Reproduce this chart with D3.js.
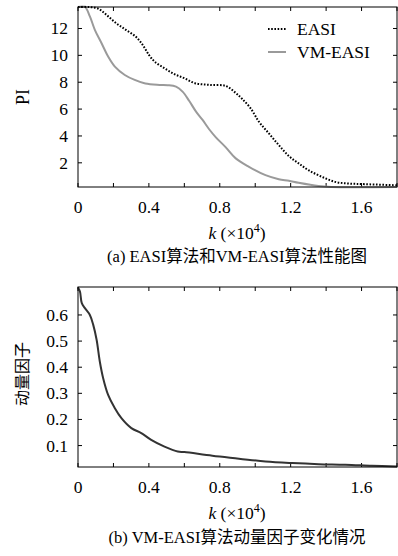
<!DOCTYPE html>
<html>
<head>
<meta charset="utf-8">
<script src="https://cdn.jsdelivr.net/npm/d3@7"></script>
<style>
  body { margin: 0; background: #fff; }
</style>
</head>
<body>
<svg id="chart" width="398" height="556" font-family="'Liberation Serif', 'DejaVu Serif', serif"></svg>
<script>
// x in units of 10^4 iterations
const easiK  = [0, 0.06, 0.114, 0.16, 0.215, 0.27, 0.325, 0.365, 0.4, 0.432, 0.488, 0.544, 0.6, 0.66, 0.74, 0.834, 0.89, 0.927, 0.974, 1.021, 1.077, 1.133, 1.19, 1.245, 1.3, 1.376, 1.451, 1.526, 1.62, 1.8];
const easiPI = [13.6, 13.6, 13.48, 13.02, 12.4, 11.9, 11.4, 10.78, 10.04, 9.54, 9.04, 8.6, 8.3, 7.93, 7.8, 7.72, 7.2, 6.75, 6.06, 5.06, 4.19, 3.32, 2.5, 1.96, 1.46, 0.96, 0.58, 0.46, 0.41, 0.33];

const vmK  = [0, 0.039, 0.067, 0.095, 0.133, 0.17, 0.208, 0.264, 0.32, 0.38, 0.46, 0.506, 0.553, 0.59, 0.628, 0.666, 0.703, 0.74, 0.778, 0.834, 0.89, 0.965, 1.058, 1.133, 1.19, 1.245, 1.357, 1.43, 1.8];
const vmPI = [13.6, 13.6, 12.9, 11.9, 10.9, 9.91, 9.16, 8.54, 8.17, 7.9, 7.8, 7.78, 7.67, 7.3, 6.6, 5.81, 5.19, 4.5, 3.9, 3.15, 2.33, 1.7, 1.08, 0.78, 0.66, 0.51, 0.27, 0.2, 0.2];

const momK = [0, 0.011, 0.021, 0.039, 0.067, 0.086, 0.105, 0.123, 0.142, 0.17, 0.208, 0.245, 0.301, 0.357, 0.413, 0.488, 0.563, 0.6, 0.758, 0.908, 1.058, 1.208, 1.358, 1.508, 1.658, 1.8];
const momV = [0.705, 0.69, 0.646, 0.626, 0.6, 0.562, 0.505, 0.422, 0.358, 0.294, 0.243, 0.205, 0.167, 0.148, 0.122, 0.096, 0.077, 0.075, 0.061, 0.05, 0.039, 0.033, 0.029, 0.027, 0.023, 0.02];

const xTickLabels = [0, 0.4, 0.8, 1.2, 1.6];
const piTicks = [2, 4, 6, 8, 10, 12];
const momTicks = [0.1, 0.2, 0.3, 0.4, 0.5, 0.6];

const svg = d3.select('#chart');
const left = 78, right = 397;

function panel(top, bottom, yDomain, yTicks, yFmt) {
  const g = svg.append('g');
  const x = d3.scaleLinear().domain([0, 1.8]).range([left, right]);
  const y = d3.scaleLinear().domain(yDomain).range([bottom, top]);

  // inward ticks on all four sides
  const xt = d3.range(0, 1.81, 0.2);
  g.selectAll('.xt').data(xt).enter().append('path')
    .attr('d', d => `M${x(d)},${bottom}v-4M${x(d)},${top}v4`)
    .attr('stroke', '#000').attr('stroke-width', 1);
  g.selectAll('.yt').data(yTicks).enter().append('path')
    .attr('d', d => `M${left},${y(d)}h4M${right},${y(d)}h-4`)
    .attr('stroke', '#000').attr('stroke-width', 1);

  g.selectAll('.xl').data(xTickLabels).enter().append('text')
    .attr('x', d => x(d)).attr('y', bottom + 26)
    .attr('text-anchor', 'middle').attr('font-size', 17.5)
    .text(d => d === 0 ? '0' : d3.format('.1f')(d));
  g.selectAll('.yl').data(yTicks).enter().append('text')
    .attr('x', left - 10).attr('y', d => y(d) + 6)
    .attr('text-anchor', 'end').attr('font-size', 17.5)
    .text(yFmt);

  const xl = g.append('text').attr('x', 237).attr('y', bottom + 52)
    .attr('text-anchor', 'middle').attr('font-size', 17.5);
  xl.append('tspan').attr('font-style', 'italic').text('k');
  xl.append('tspan').text(' (×10');
  xl.append('tspan').attr('font-size', 12).attr('dy', -7).text('4');
  xl.append('tspan').attr('dy', 7).text(')');

  return { g, x, y };
}

// (a)
const a = panel(7, 187, [0.2, 13.6], piTicks, d => d);
const lineA = d3.line().x(d => a.x(d[0])).y(d => a.y(d[1])).curve(d3.curveCatmullRom);
a.g.append('path').datum(d3.zip(vmK, vmPI)).attr('d', lineA)
  .attr('fill', 'none').attr('stroke', '#9a9a9a').attr('stroke-width', 2);
a.g.append('path').datum(d3.zip(easiK, easiPI)).attr('d', lineA)
  .attr('fill', 'none').attr('stroke', '#000').attr('stroke-width', 2)
  .attr('stroke-dasharray', '1.6,1.6');
a.g.append('rect').attr('x', left).attr('y', 7).attr('width', right - left).attr('height', 180)
  .attr('fill', 'none').attr('stroke', '#000').attr('stroke-width', 1);

// legend
const legend = a.g.append('g');
legend.append('line').attr('x1', 268).attr('x2', 286).attr('y1', 29).attr('y2', 29)
  .attr('stroke', '#000').attr('stroke-width', 2).attr('stroke-dasharray', '1.6,1.6');
legend.append('text').attr('x', 297).attr('y', 35).attr('font-size', 17.5).text('EASI');
legend.append('line').attr('x1', 268).attr('x2', 286).attr('y1', 52).attr('y2', 52)
  .attr('stroke', '#9a9a9a').attr('stroke-width', 2);
legend.append('text').attr('x', 297).attr('y', 58).attr('font-size', 17.5).text('VM-EASI');

a.g.append('text').attr('transform', 'translate(29,97) rotate(-90)')
  .attr('text-anchor', 'middle').attr('font-size', 18).text('PI');
a.g.append('text').attr('x', 237).attr('y', 262)
  .attr('text-anchor', 'middle').attr('font-size', 16.5)
  .attr('font-family', "'Liberation Serif', 'Noto Sans CJK SC', serif")
  .text('(a) EASI算法和VM-EASI算法性能图');

// (b)
const b = panel(287, 467, [0.018, 0.707], momTicks, d => d3.format('.1f')(d));
const lineB = d3.line().x(d => b.x(d[0])).y(d => b.y(d[1])).curve(d3.curveCatmullRom);
b.g.append('path').datum(d3.zip(momK, momV)).attr('d', lineB)
  .attr('fill', 'none').attr('stroke', '#333').attr('stroke-width', 2);
b.g.append('rect').attr('x', left).attr('y', 287).attr('width', right - left).attr('height', 180)
  .attr('fill', 'none').attr('stroke', '#000').attr('stroke-width', 1);
b.g.append('text').attr('transform', 'translate(28,374) rotate(-90)')
  .attr('text-anchor', 'middle').attr('font-size', 16)
  .attr('font-family', "'Noto Sans CJK SC', sans-serif")
  .text('动量因子');
b.g.append('text').attr('x', 237).attr('y', 543)
  .attr('text-anchor', 'middle').attr('font-size', 16.5)
  .attr('font-family', "'Liberation Serif', 'Noto Sans CJK SC', serif")
  .text('(b) VM-EASI算法动量因子变化情况');
</script>
</body>
</html>
